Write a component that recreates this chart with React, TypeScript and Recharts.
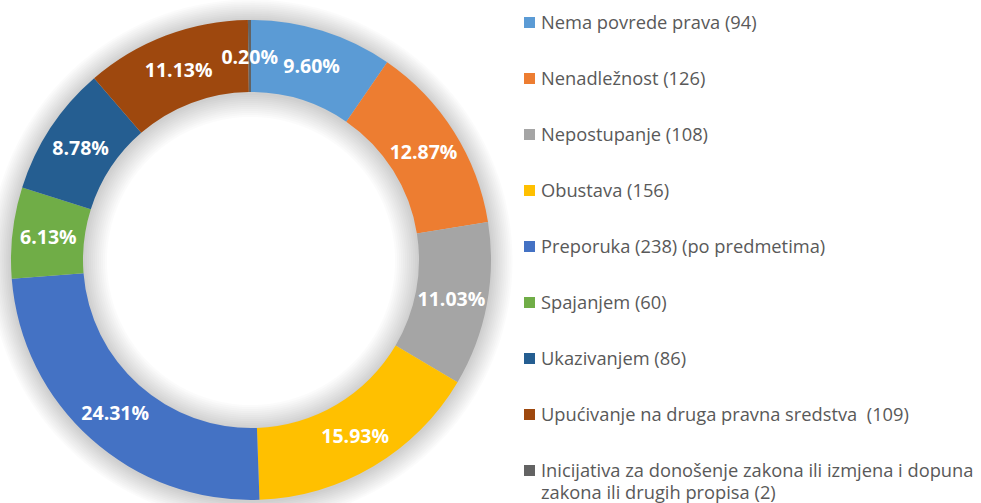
import React from 'react';
import { PieChart, Pie, Cell, Legend } from 'recharts';

const categories = [
  'Nema povrede prava (94)',
  'Nenadležnost (126)',
  'Nepostupanje (108)',
  'Obustava (156)',
  'Preporuka (238) (po predmetima)',
  'Spajanjem (60)',
  'Ukazivanjem (86)',
  'Upućivanje na druga pravna sredstva  (109)',
  'Inicijativa za donošenje zakona ili izmjena i dopuna\nzakona ili drugih propisa (2)',
];
const values = [94, 126, 108, 156, 238, 60, 86, 109, 2];
const colors = ['#5B9BD5', '#ED7D31', '#A5A5A5', '#FFC000', '#4472C4', '#70AD47', '#255E91', '#9E480E', '#636363'];

const data = categories.map((name, i) => ({ name, value: values[i] }));
const total = values.reduce((a, b) => a + b, 0);
const shadowData = [{ name: 'shadow', value: total }];
const shadowSteps = [1, 2, 3, 4, 5, 6, 7, 8, 9, 10, 11, 12];

const CX = 251;
const CY = 260;
const IR = 168;
const OR = 240;

const RAD = Math.PI / 180;
const FONT = '"Open Sans", Lato, sans-serif';

const renderLabel = (p: any) => {
  const { cx, cy, midAngle, innerRadius, outerRadius, percent } = p;
  const r = (innerRadius + outerRadius) / 2;
  const x = cx + r * Math.cos(-midAngle * RAD);
  const y = cy + r * Math.sin(-midAngle * RAD);
  return (
    <text x={x} y={y} fill="#fff" textAnchor="middle" dominantBaseline="central"
      style={{ fontFamily: FONT, fontWeight: 700, fontSize: 19.5 }}>
      {(percent * 100).toFixed(2) + '%'}
    </text>
  );
};

const renderLegend = () => (
  <div style={{ fontFamily: FONT, fontSize: 18.3, color: '#595959' }}>
    {categories.map((c, i) => (
      <div key={i} style={{ display: 'flex', alignItems: 'flex-start', height: 56, lineHeight: '22px' }}>
        <span style={{ width: 11, height: 11, background: colors[i], marginTop: 6, marginRight: 6, flex: 'none' }} />
        <span style={{ whiteSpace: 'pre' }}>{c}</span>
      </div>
    ))}
  </div>
);

export default function App() {
  return (
    <div style={{ position: 'absolute', left: 0, top: 0, width: 981, height: 503, background: '#fff', overflow: 'hidden' }}>
      <PieChart width={981} height={503} margin={{ top: 0, right: 0, bottom: 0, left: 0 }}>
        {shadowSteps.map((k) => (
          <Pie key={'s' + k} data={shadowData} dataKey="value" nameKey="name" cx={CX} cy={CY + 1}
            innerRadius={IR - 2 * k} outerRadius={OR + 1.8 * k} startAngle={90} endAngle={-270}
            stroke="none" fill="#000" fillOpacity={0.017} isAnimationActive={false} legendType="none" />
        ))}
        <Pie data={data} dataKey="value" nameKey="name" cx={CX} cy={CY}
          innerRadius={IR} outerRadius={OR} startAngle={90} endAngle={-270}
          stroke="none" isAnimationActive={false} label={renderLabel} labelLine={false}>
          {data.map((d, i) => (
            <Cell key={i} fill={colors[i]} />
          ))}
        </Pie>
        <Legend layout="vertical" align="right" verticalAlign="top" content={renderLegend}
          wrapperStyle={{ left: 524, top: 11, width: 456 }} />
      </PieChart>
    </div>
  );
}
